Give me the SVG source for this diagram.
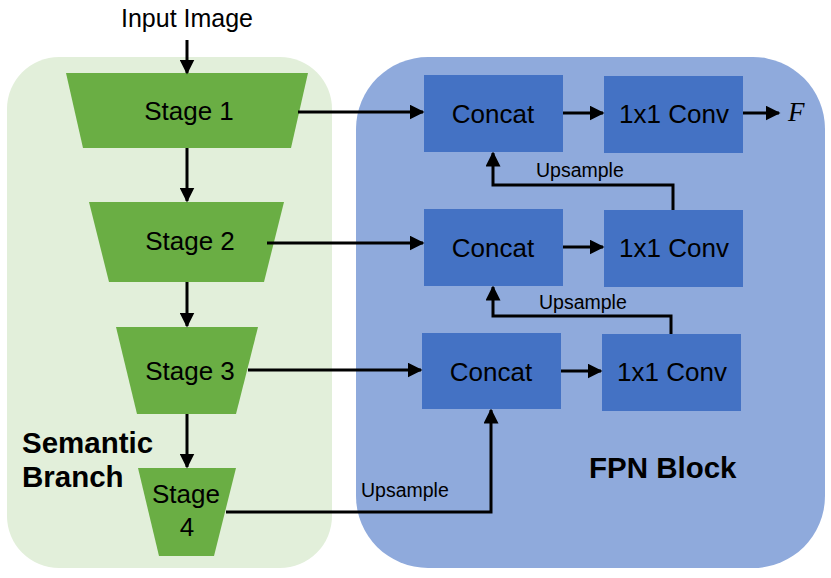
<svg xmlns="http://www.w3.org/2000/svg" width="831" height="578" viewBox="0 0 831 578">
<defs>
<marker id="ah" viewBox="0 0 10 10" refX="9" refY="5" markerWidth="5" markerHeight="5" orient="auto" markerUnits="strokeWidth">
<path d="M0,0 L10,5 L0,10 Z" fill="#000"/>
</marker>
<style>
.t{font-family:"Liberation Sans",Arial,sans-serif;fill:#000}
.stage{fill:#6AAE44}
.box{fill:#4472C4}
.c{fill:none;stroke:#000;stroke-width:3;marker-end:url(#ah)}
.lbl{font-size:26px}
.up{font-size:19.5px}
.big{font-size:29.5px;font-weight:bold}
</style>
</defs>
<rect id="semantic-bg" x="7" y="57" width="325" height="511" rx="52" fill="#E2EFDA"/>
<rect id="fpn-bg" x="356" y="57" width="469" height="511" rx="72" fill="#8FAADC"/>
<text class="t" x="187" y="27" font-size="25" text-anchor="middle">Input Image</text>
<g id="stage1"><polygon class="stage" points="66,73 308,73 291,148 83,148"/><text class="t lbl" x="189" y="120" text-anchor="middle">Stage 1</text></g>
<g id="stage2"><polygon class="stage" points="89,202 284,202 264,282 109,282"/><text class="t lbl" x="190" y="250" text-anchor="middle">Stage 2</text></g>
<g id="stage3"><polygon class="stage" points="116,327 258,327 236,414 137,414"/><text class="t lbl" x="190" y="380" text-anchor="middle">Stage 3</text></g>
<g id="stage4"><polygon class="stage" points="138,468 236,468 214,556 159,556"/><text class="t lbl" x="186" y="503" text-anchor="middle">Stage</text><text class="t lbl" x="187" y="536" text-anchor="middle">4</text></g>
<g id="semantic-label"><text class="t big" x="22" y="453">Semantic</text><text class="t big" x="22" y="487">Branch</text></g>
<g id="fpn-label"><text class="t big" x="589" y="478">FPN Block</text></g>
<g id="concat1"><rect class="box" x="424" y="75" width="139" height="77"/><text class="t lbl" x="493" y="123" text-anchor="middle">Concat</text></g>
<g id="conv1"><rect class="box" x="604" y="76" width="139" height="77"/><text class="t lbl" x="674" y="123" text-anchor="middle">1x1 Conv</text></g>
<g id="concat2"><rect class="box" x="424" y="209" width="139" height="77"/><text class="t lbl" x="493" y="257" text-anchor="middle">Concat</text></g>
<g id="conv2"><rect class="box" x="604" y="210" width="139" height="77"/><text class="t lbl" x="674" y="257" text-anchor="middle">1x1 Conv</text></g>
<g id="concat3"><rect class="box" x="422" y="333" width="139" height="76"/><text class="t lbl" x="491" y="381" text-anchor="middle">Concat</text></g>
<g id="conv3"><rect class="box" x="602" y="334" width="139" height="77"/><text class="t lbl" x="672" y="381" text-anchor="middle">1x1 Conv</text></g>
<text id="F" x="788" y="121" font-family="Liberation Serif,serif" font-style="italic" font-size="27">F</text>
<g id="connectors">
<line class="c" x1="187" y1="40" x2="187" y2="73"/>
<line class="c" x1="187" y1="148" x2="187" y2="201"/>
<line class="c" x1="187" y1="282" x2="187" y2="326"/>
<line class="c" x1="187" y1="414" x2="187" y2="467"/>
<line class="c" x1="298" y1="112" x2="423" y2="112"/>
<line class="c" x1="267" y1="243" x2="423" y2="243"/>
<line class="c" x1="248" y1="370" x2="421" y2="370"/>
<line class="c" x1="563" y1="113" x2="603" y2="113"/>
<line class="c" x1="563" y1="247" x2="603" y2="247"/>
<line class="c" x1="561" y1="371" x2="601" y2="371"/>
<line class="c" x1="743" y1="113" x2="779" y2="113"/>
<polyline class="c" points="673,210 673,185 493,185 493,153"/>
<polyline class="c" points="671,334 671,316 493,316 493,287"/>
<polyline class="c" points="226,512 491,512 491,410"/>
<text class="t up" x="536" y="177">Upsample</text>
<text class="t up" x="539" y="309">Upsample</text>
<text class="t up" x="361" y="497">Upsample</text>
</g>
</svg>
